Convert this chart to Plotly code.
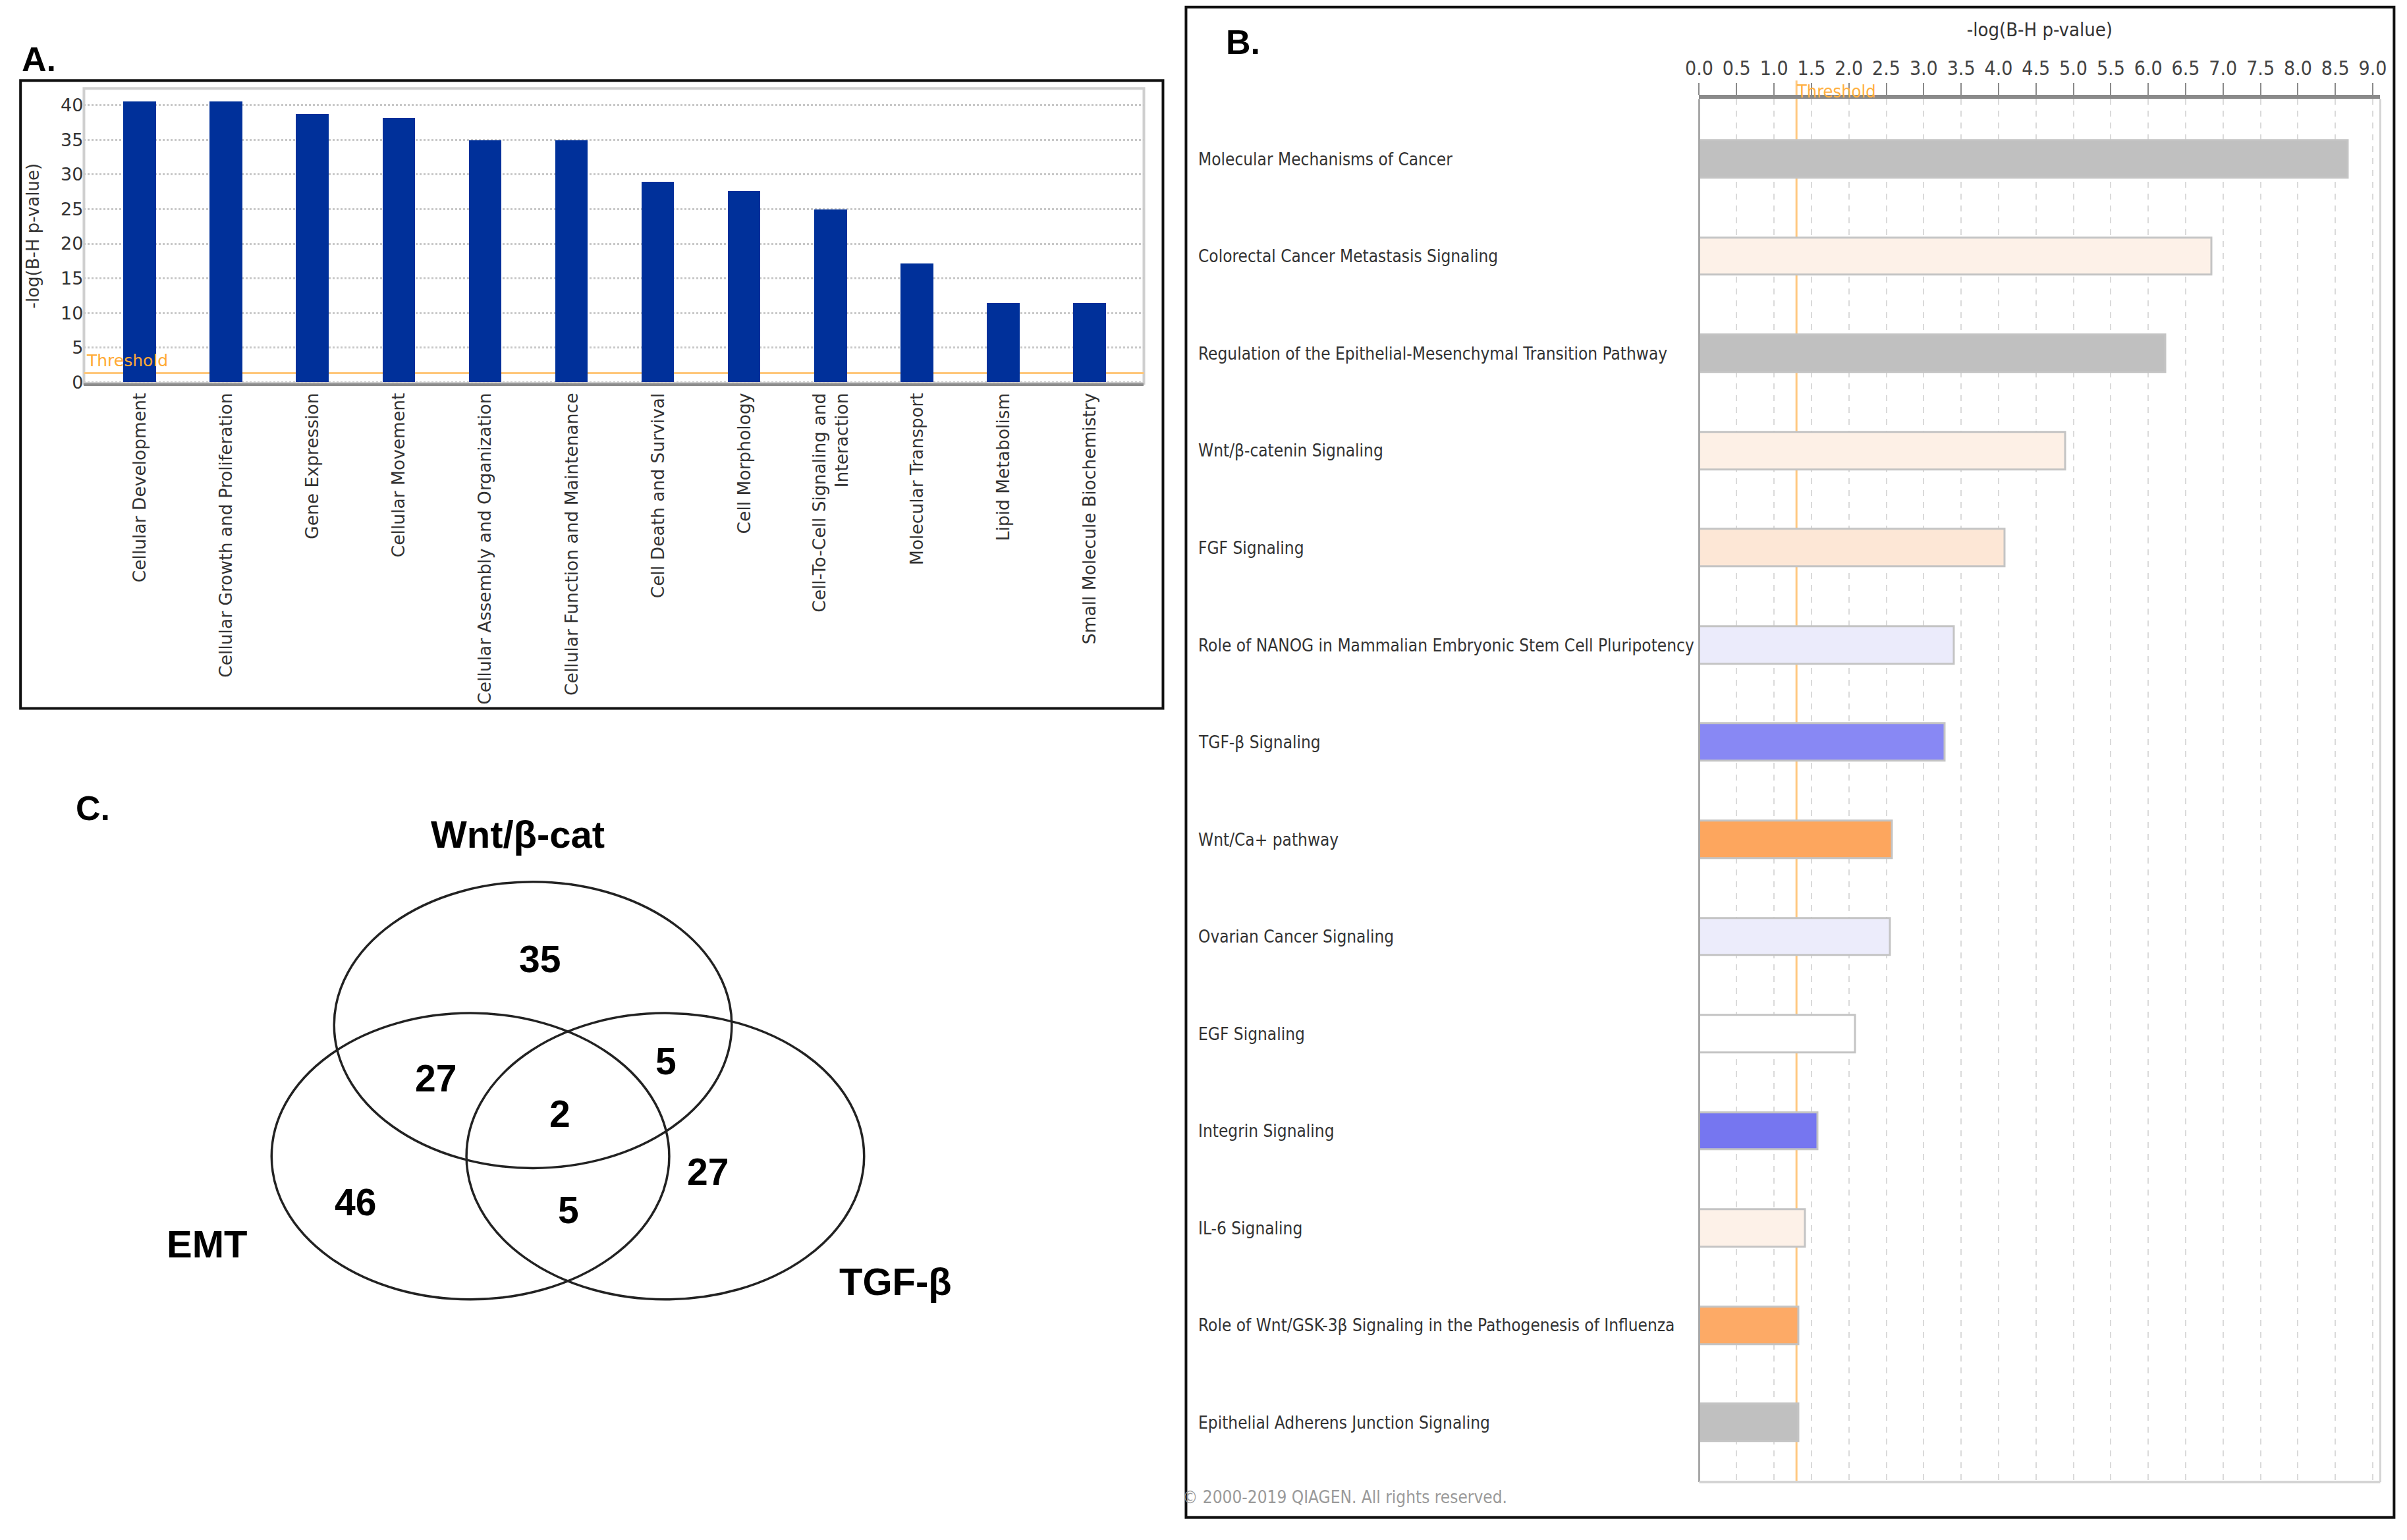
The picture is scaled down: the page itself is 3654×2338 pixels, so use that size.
import plotly.graph_objects as go

# ---------------- data ----------------
categories_a = [
    "Cellular Development", "Cellular Growth and Proliferation", "Gene Expression",
    "Cellular Movement", "Cellular Assembly and Organization",
    "Cellular Function and Maintenance", "Cell Death and Survival", "Cell Morphology",
    "Cell-To-Cell Signaling and<br>Interaction", "Molecular Transport",
    "Lipid Metabolism", "Small Molecule Biochemistry",
]
values_a = [40.5, 40.5, 38.7, 38.2, 34.9, 34.9, 28.9, 27.6, 24.9, 17.1, 11.4, 11.4]
threshold_a = 1.3
yticks_a = [0, 5, 10, 15, 20, 25, 30, 35, 40]

categories_b = [
    "Molecular Mechanisms of Cancer",
    "Colorectal Cancer Metastasis Signaling",
    "Regulation of the Epithelial-Mesenchymal Transition Pathway",
    "Wnt/β-catenin Signaling",
    "FGF Signaling",
    "Role of NANOG in Mammalian Embryonic Stem Cell Pluripotency",
    "TGF-β Signaling",
    "Wnt/Ca+ pathway",
    "Ovarian Cancer Signaling",
    "EGF Signaling",
    "Integrin Signaling",
    "IL-6 Signaling",
    "Role of Wnt/GSK-3β Signaling in the Pathogenesis of Influenza",
    "Epithelial Adherens Junction Signaling",
]
values_b = [8.67, 6.85, 6.23, 4.89, 4.08, 3.41, 3.28, 2.58, 2.55, 2.09, 1.58, 1.42, 1.33, 1.33]
threshold_b = 1.3
colors_b = ["#c0c0c0", "#fdf1e8", "#c0c0c0", "#fdf0e6", "#fde7d6", "#ebebfb", "#8888f4",
            "#fda65e", "#ececfb", "#ffffff", "#7676f0", "#fdf1e8", "#fdaa66", "#c0c0c0"]

venn_sets = ["Wnt/β-cat", "EMT", "TGF-β"]
venn_regions = ["Wnt only", "Wnt∩EMT", "Wnt∩TGF", "all", "EMT only", "EMT∩TGF", "TGF only"]
venn_counts = [35, 27, 5, 2, 46, 5, 27]

# ---------------- layout constants ----------------
W, H = 3654, 2338
# compensation for page placement in the screenshot
OFFX, SX = 30.5, 0.9921
OFFY, SY = 10.3, 0.997

COND = "DejaVu Sans Condensed, DejaVu Sans, sans-serif"
VERD = "DejaVu Sans, Verdana, sans-serif"
ARIAL = "Liberation Sans, Arial, sans-serif"


def px(xo):
    return max(0.0006, (xo - OFFX) / SX / W)


def py(yo):
    return 1 - (yo - OFFY) / SY / H


fig = go.Figure()

# Panel A bars
fig.add_trace(go.Bar(
    x=categories_a, y=values_a, xaxis="x", yaxis="y",
    width=0.377, marker=dict(color="#00309a", line=dict(width=0)),
    showlegend=False,
))

# Panel B bars
fig.add_trace(go.Bar(
    y=categories_b, x=values_b, orientation="h", xaxis="x2", yaxis="y2",
    width=0.385, marker=dict(color=colors_b, line=dict(color="#c4c4c4", width=3)),
    showlegend=False,
))

shapes = []
annotations = []

# ---------- axes ----------
A_x = [px(129), px(1739)]
A_y = [py(586), py(137)]
B_x = [px(2582.5), px(3617)]
B_y = [py(2259), py(153)]

layout_axes = dict(
    xaxis=dict(domain=A_x, anchor="y", type="category", range=[-0.648, 11.625],
               tickangle=-90, tickfont=dict(family=VERD, size=26.5, color="#333333"),
               showgrid=False, showline=True, linecolor="#8c8c8c", linewidth=4,
               ticks="", zeroline=False),
    yaxis=dict(domain=A_y, anchor="x", range=[-0.18, 42.44], tickvals=yticks_a,
               tickfont=dict(family=VERD, size=27, color="#333333"),
               showgrid=True, gridcolor="#c8c8c8", griddash="dot", gridwidth=3,
               zeroline=False, showline=False, ticks="",
               title=dict(text="-log(B-H p-value)", font=dict(family=VERD, size=26, color="#333333"),
                          standoff=24)),
    xaxis2=dict(domain=B_x, anchor="y2", side="top", range=[0, 9.1],
                dtick=0.5, tick0=0, tickformat=".1f",
                tickfont=dict(family=COND, size=30, color="#444444"),
                showgrid=True, gridcolor="#dadada", griddash="dash", gridwidth=2,
                showline=True, linecolor="#8a8a8a", linewidth=6,
                ticks="outside", ticklen=18, tickcolor="#8a8a8a", tickwidth=2,
                zeroline=False,
                title=dict(text="-log(B-H p-value)", font=dict(family=COND, size=29, color="#333333"),
                           standoff=24)),
    yaxis2=dict(domain=B_y, anchor="x2", type="category",
                range=[13.61, -0.62], showticklabels=False, showgrid=False,
                zeroline=False, showline=False, ticks=""),
    # Venn canvas: data units = reference pixel coordinates
    xaxis3=dict(domain=[0, 0.49], anchor="y3", range=[OFFX, OFFX + 0.49 * W * SX], visible=False),
    yaxis3=dict(domain=[0, 0.5], anchor="x3", range=[OFFY + SY * H, OFFY + 0.5 * SY * H], visible=False),
)

# Panel A plot frame
shapes.append(dict(type="rect", xref="paper", yref="paper", x0=A_x[0], x1=A_x[1], y0=A_y[0], y1=A_y[1],
                   line=dict(color="#cfcfcf", width=4), layer="below"))
# Panel A threshold
shapes.append(dict(type="line", xref="paper", yref="y", x0=A_x[0], x1=A_x[1], y0=threshold_a, y1=threshold_a,
                   line=dict(color="#ffc779", width=3), layer="below"))
annotations.append(dict(text="Threshold", xref="paper", yref="y", x=A_x[0] + 0.0005, y=threshold_a + 0.2,
                        xanchor="left", yanchor="bottom", showarrow=False,
                        font=dict(family=VERD, size=25, color="#ffaa33")))
# Panel A outer box
shapes.append(dict(type="rect", xref="paper", yref="paper", x0=px(21), x1=px(1768), y0=py(1081), y1=py(125),
                   line=dict(color="#111111", width=4)))
annotations.append(dict(text="<b>A.</b>", xref="paper", yref="paper", x=px(24), y=py(93),
                        xanchor="left", yanchor="middle", showarrow=False,
                        font=dict(family=ARIAL, size=52, color="#000000")))

# ---------- Panel B ----------
shapes.append(dict(type="line", xref="paper", yref="paper", x0=B_x[0], x1=B_x[0], y0=B_y[0], y1=B_y[1],
                   line=dict(color="#a8a8a8", width=3)))
shapes.append(dict(type="line", xref="paper", yref="paper", x0=B_x[1], x1=B_x[1], y0=B_y[0], y1=B_y[1],
                   line=dict(color="#d4d4d4", width=3)))
shapes.append(dict(type="line", xref="paper", yref="paper", x0=B_x[0], x1=B_x[1], y0=B_y[0], y1=B_y[0],
                   line=dict(color="#d4d4d4", width=4)))
shapes.append(dict(type="line", xref="x2", yref="paper", x0=threshold_b, x1=threshold_b,
                   y0=B_y[0], y1=py(125), line=dict(color="#ffc880", width=3), layer="below"))
annotations.append(dict(text="Threshold", xref="x2", yref="paper", x=threshold_b - 0.02, y=py(124),
                        xanchor="left", yanchor="top", showarrow=False,
                        font=dict(family=COND, size=27, color="#ffb040")))
for cat in categories_b:
    annotations.append(dict(text=cat, xref="paper", yref="y2", x=px(1820), y=cat,
                            xanchor="left", yanchor="middle", showarrow=False,
                            font=dict(family=COND, size=26, color="#333333")))
shapes.append(dict(type="rect", xref="paper", yref="paper", x0=px(1803), x1=px(3638), y0=py(2313), y1=py(13),
                   line=dict(color="#111111", width=4)))
annotations.append(dict(text="<b>B.</b>", xref="paper", yref="paper", x=px(1862), y=py(66),
                        xanchor="left", yanchor="middle", showarrow=False,
                        font=dict(family=ARIAL, size=52, color="#000000")))
annotations.append(dict(text="© 2000-2019 QIAGEN. All rights reserved.", xref="paper", yref="paper",
                        x=px(1796), y=py(2282), xanchor="left", yanchor="middle", showarrow=False,
                        font=dict(family=COND, size=26, color="#9a9a9a")))

# ---------- Panel C: Venn ----------
RX, RY = 302, 218
set_centers = {"Wnt/β-cat": (811, 1563), "EMT": (716, 1763), "TGF-β": (1012, 1763)}
set_label_pos = {"Wnt/β-cat": (788, 1273), "EMT": (316, 1896), "TGF-β": (1362, 1954)}
region_pos = {"Wnt only": (821, 1463), "Wnt∩EMT": (663, 1644), "Wnt∩TGF": (1013, 1618),
              "all": (852, 1698), "EMT only": (541, 1833), "EMT∩TGF": (865, 1845),
              "TGF only": (1077, 1787)}
for s in venn_sets:
    cx, cy = set_centers[s]
    shapes.append(dict(type="circle", xref="x3", yref="y3", x0=cx - RX, x1=cx + RX, y0=cy - RY, y1=cy + RY,
                       line=dict(color="#222222", width=3.5)))
    lx, ly = set_label_pos[s]
    annotations.append(dict(text=f"<b>{s}</b>", xref="x3", yref="y3", x=lx, y=ly, showarrow=False,
                            xanchor="center", yanchor="middle",
                            font=dict(family=ARIAL, size=58, color="#000000")))
for r, c in zip(venn_regions, venn_counts):
    rx_, ry_ = region_pos[r]
    annotations.append(dict(text=f"<b>{c}</b>", xref="x3", yref="y3", x=rx_, y=ry_, showarrow=False,
                            xanchor="center", yanchor="middle",
                            font=dict(family=ARIAL, size=57, color="#000000")))
annotations.append(dict(text="<b>C.</b>", xref="x3", yref="y3", x=115, y=1233,
                        xanchor="left", yanchor="middle", showarrow=False,
                        font=dict(family=ARIAL, size=52, color="#000000")))

fig.update_layout(
    width=W, height=H, margin=dict(l=0, r=0, t=0, b=0),
    paper_bgcolor="white", plot_bgcolor="white",
    bargap=0, shapes=shapes, annotations=annotations,
    **layout_axes,
)

fig.write_html("out.html")
